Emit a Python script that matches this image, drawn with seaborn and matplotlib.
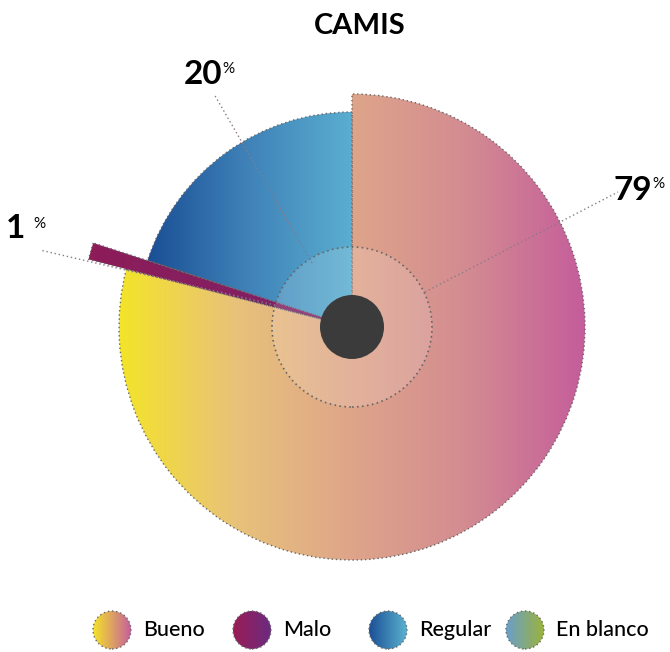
import numpy as np
import matplotlib
matplotlib.use("Agg")
import matplotlib.pyplot as plt
from matplotlib.patches import Wedge, Circle
import seaborn as sns

# data
categories = ['Bueno', 'Malo', 'Regular', 'En blanco']
values = [79, 1, 20, 0]
title = 'CAMIS'

sns.set_theme(style="white")
plt.rcParams['font.family'] = ['Lato', 'DejaVu Sans']

# gradient palettes (left -> right)
grads = {
    'Bueno': ['#f4e429', '#e8c27a', '#dea58a', '#d38b91', '#c55d9b'],
    'Malo': ['#8e1c58', '#7c2268'],
    'Regular': ['#184c93', '#3f82b8', '#5aaed0'],
    'En blanco': ['#6a9fca', '#9bb33c'],
}
legend_grads = {
    'Bueno': ['#f4e429', '#c65f9c'],
    'Malo': ['#9a1d55', '#6b2b80'],
    'Regular': ['#1b4f96', '#5bb2d0'],
    'En blanco': ['#6a9fca', '#9bb33c'],
}
radius = {'Bueno': 233, 'Malo': 272, 'Regular': 215}
zord = {'Bueno': 1, 'Regular': 2, 'Malo': 3}

fig = plt.figure(figsize=(6.7, 6.52), dpi=100)
ax = fig.add_axes([0, 0, 1, 1])
H = 652
cx, cy = 352, H - 327
edge = '#666666'
dots = (0, (1, 2))


def grad_fill(patch, colors, x0, x1, y0, y1, z):
    cmap = sns.blend_palette(colors, n_colors=256, as_cmap=True)
    im = ax.imshow(np.linspace(0, 1, 256)[None, :], cmap=cmap, aspect='auto',
                   extent=[x0, x1, y0, y1], origin='lower', zorder=z)
    im.set_clip_path(patch)


# pie slices, clockwise from 12 o'clock
total = sum(values)
start = 90.0
for cat, v in zip(categories, values):
    if v == 0:
        continue
    sweep = v / total * 360
    t2 = start
    t1 = start - sweep
    start = t1
    r = radius[cat]
    w = Wedge((cx, cy), r, t1, t2, facecolor='none', edgecolor=edge,
              lw=1, linestyle=dots, zorder=zord[cat] + 0.5)
    ax.add_patch(w)
    clip = Wedge((cx, cy), r, t1, t2, facecolor='none', edgecolor='none')
    ax.add_patch(clip)
    if cat == 'Bueno':
        x0, x1 = cx - r, cx + r
    elif cat == 'Regular':
        x0, x1 = cx - r * 0.97, cx
    else:
        x0, x1 = cx - r, cx
    grad_fill(clip, grads[cat], x0, x1, cy - r, cy + r, zord[cat])

# inner translucent ring and dark hub
ax.add_patch(Circle((cx, cy), 80, facecolor='white', alpha=0.15, edgecolor='none', zorder=5))
ax.add_patch(Circle((cx, cy), 80, facecolor='none', edgecolor=edge, lw=1.2,
                    linestyle=dots, zorder=5.5))
ax.add_patch(Circle((cx, cy), 32, facecolor='#3b3b3b', edgecolor='none', zorder=6))

# leader lines and percentage labels (Bueno, Regular, Malo)
lead = '#8a7a85'
label_vals = [values[0], values[2], values[1]]
leaders = [
    ((425, 292), (618, 192)),
    ((312, 263), (214, 94)),
    ((275, 305), (40, 250)),
]
label_pos = [(652, 200), (222, 84), (25, 238)]
pct_pos = [(652, 188), (222, 73), (33, 228)]
for (p0, p1), (tx, ty), (px, py), v in zip(leaders, label_pos, pct_pos, label_vals):
    ax.plot([p0[0], p1[0]], [H - p0[1], H - p1[1]], color=lead, lw=1,
            linestyle=dots, zorder=7)
    ax.text(tx, H - ty, f"{v}", ha='right', va='baseline', fontsize=24,
            fontweight='bold', color='black', zorder=8)
    ax.text(px, H - py, '%', ha='left', va='baseline', fontsize=11,
            color='black', zorder=8)

# title
ax.text(360, H - 34, title, ha='center', va='baseline', fontsize=21,
        fontweight='bold', color='black')

# legend with gradient dots
leg_x = [112, 252, 388, 525]
leg_y = H - 630
for cat, lx in zip(categories, leg_x):
    c = Circle((lx, leg_y), 19, facecolor='none', edgecolor='none')
    ax.add_patch(c)
    grad_fill(c, legend_grads[cat], lx - 19, lx + 19, leg_y - 19, leg_y + 19, 2)
    ax.add_patch(Circle((lx, leg_y), 19, facecolor='none', edgecolor=edge, lw=1,
                        linestyle=dots, zorder=3))
    ax.text(lx + 31, leg_y, cat, ha='left', va='center', fontsize=15.5,
            color='black', fontweight='medium')

ax.set_xlim(0, 670)
ax.set_ylim(0, H)
ax.axis('off')
fig.savefig('out.png', dpi=100, facecolor='white')
